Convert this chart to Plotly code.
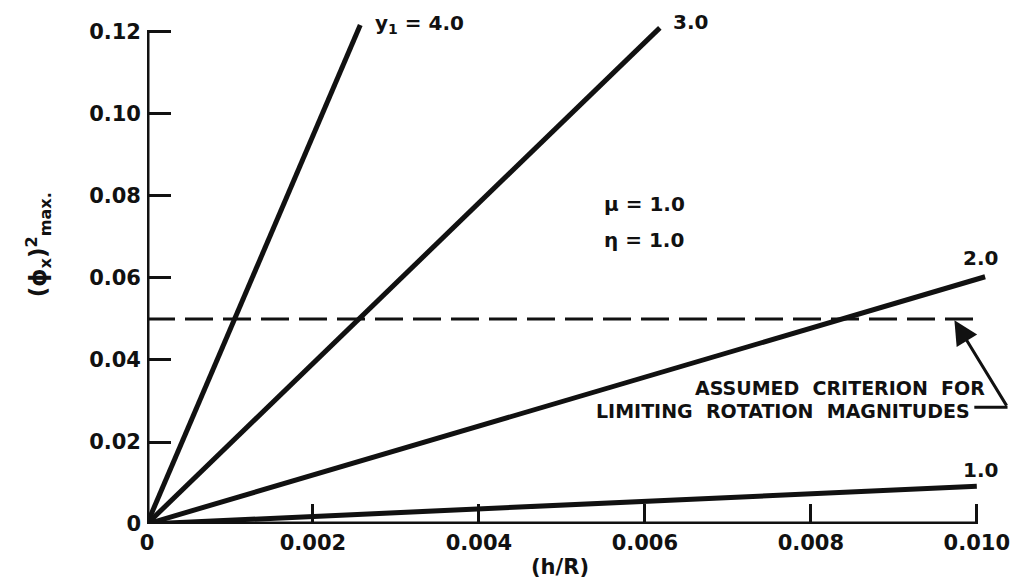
import plotly.graph_objects as go

# Curve labels and the end points of each straight curve (all start at the origin)
curve_labels = ["4.0", "3.0", "2.0", "1.0"]
curve_end_x = [0.00257, 0.00618, 0.0101, 0.0100]
curve_end_y = [0.1217, 0.1210, 0.0603, 0.0092]

criterion = 0.05          # assumed limiting value of (phi_x)^2 max
criterion_end_x = 0.010

x_ticks = [0, 0.002, 0.004, 0.006, 0.008, 0.010]
x_tick_text = ["0", "0.002", "0.004", "0.006", "0.008", "0.010"]
y_ticks = [0, 0.02, 0.04, 0.06, 0.08, 0.10, 0.12]
y_tick_text = ["0", "0.02", "0.04", "0.06", "0.08", "0.10", "0.12"]

INK = "#111111"
FONT = "DejaVu Sans"

fig = go.Figure()

for ex, ey in zip(curve_end_x, curve_end_y):
    fig.add_trace(go.Scatter(
        x=[0, ex], y=[0, ey], mode="lines",
        line=dict(color=INK, width=5), showlegend=False, hoverinfo="skip",
    ))

fig.add_trace(go.Scatter(
    x=[0, criterion_end_x], y=[criterion, criterion], mode="lines",
    line=dict(color=INK, width=3, dash="28px,10px"),
    showlegend=False, hoverinfo="skip",
))

# axis lines drawn only over the labelled span
fig.add_shape(type="line", x0=0, y0=0, x1=0, y1=y_ticks[-1],
              line=dict(color=INK, width=5))
fig.add_shape(type="line", x0=0, y0=0, x1=x_ticks[-1], y1=0,
              line=dict(color=INK, width=5))

def bold(size):
    return dict(family=FONT, size=size, color=INK, weight="bold")

def note(text, x, y, xanchor="left", size=20, xref="x", yref="y", **kw):
    fig.add_annotation(text=text, x=x, y=y, xref=xref, yref=yref,
                       xanchor=xanchor, yanchor="middle", showarrow=False,
                       font=bold(size), **kw)

note("y<sub>1</sub> = 4.0", 0.00272, 0.1220)
note("3.0", 0.00632, 0.1224)
note("2.0", 0.01005, 0.0649, xanchor="center")
note("1.0", 0.01005, 0.0132, xanchor="center")
note("μ = 1.0", 0.00548, 0.0780)
note("η = 1.0", 0.00548, 0.0693)
note("ASSUMED  CRITERION  FOR", 0.01012, 0.03305, xanchor="right", size=19)
note("LIMITING  ROTATION  MAGNITUDES", 0.00994, 0.02768, xanchor="right", size=19)

# axis titles, placed in paper coordinates outside the plotting area
note("(h/R)", 0.4786, -0.083, xanchor="center", xref="paper", yref="paper", size=21)
note("(ϕ<sub>x</sub>)<sup>2</sup><sub>max.</sub>", -0.1263, 0.532,
     xanchor="center", xref="paper", yref="paper", textangle=-90, size=23)

# leader from the criterion note up to the dashed line
fig.add_shape(type="line", x0=0.00997, y0=0.0285, x1=0.01037, y1=0.0285,
              line=dict(color=INK, width=3))
fig.add_annotation(x=0.00973, y=0.0497, ax=0.01037, ay=0.0285,
                   xref="x", yref="y", axref="x", ayref="y", text="",
                   showarrow=True, arrowhead=2, arrowsize=1.6,
                   arrowwidth=3, arrowcolor=INK)

fig.update_xaxes(
    range=[0, 0.0104], showgrid=False, zeroline=False, showline=False,
    tickmode="array", tickvals=x_ticks, ticktext=x_tick_text,
    ticks="inside", ticklen=20, tickwidth=3, tickcolor=INK,
    tickfont=bold(21), ticklabelstandoff=4, ticklabeloverflow="allow",
)
fig.update_yaxes(
    range=[0, 0.1278], showgrid=False, zeroline=False, showline=False,
    tickmode="array", tickvals=y_ticks, ticktext=y_tick_text,
    ticks="inside", ticklen=24, tickwidth=3, tickcolor=INK,
    tickfont=bold(21), ticklabelstandoff=5, ticklabeloverflow="allow",
)

fig.update_layout(
    width=1010, height=582,
    margin=dict(l=147, r=0, t=0, b=58),
    paper_bgcolor="white", plot_bgcolor="white",
    showlegend=False,
)

fig.write_html("out.html")
